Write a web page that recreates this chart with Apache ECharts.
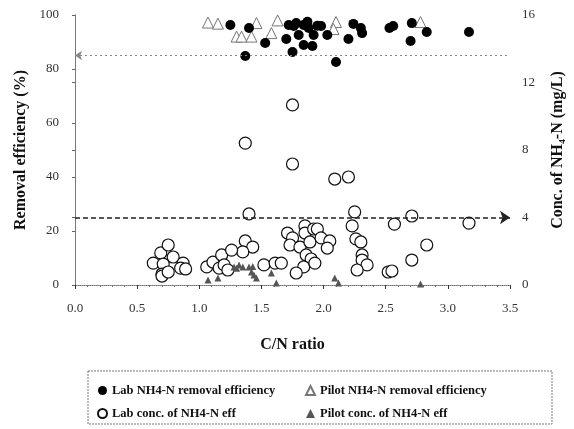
<!DOCTYPE html>
<html>
<head>
<meta charset="utf-8">
<script src="https://cdn.jsdelivr.net/npm/echarts@6/dist/echarts.min.js"></script>
<style>
  html, body { margin: 0; padding: 0; background: #fff; }
  #chart { width: 574px; height: 429px; }
</style>
</head>
<body>
<div id="chart"></div>
<script>
// ---------------- Data ----------------
// [C/N ratio, removal efficiency %]
let lab_removal = [
  [1.25, 96.3], [1.40, 95.2], [1.53, 89.6], [1.37, 84.8], [1.72, 96.3],
  [1.76, 95.9], [1.70, 91.1], [1.80, 92.6], [1.84, 96.3], [1.88, 95.2],
  [1.92, 92.6], [1.84, 88.9], [1.91, 88.5], [1.75, 86.3], [2.03, 92.6],
  [2.10, 82.6], [2.20, 91.1], [2.24, 96.7], [2.30, 95.2], [2.31, 93.3],
  [2.53, 95.2], [2.56, 95.9], [2.71, 97.0], [2.70, 90.4], [2.83, 93.7],
  [3.17, 93.7], [1.98, 95.9], [1.78, 97.0], [1.87, 97.5], [1.95, 96.0]
];
let pilot_removal = [
  [1.07, 97.2], [1.15, 96.8], [1.30, 92.0], [1.34, 92.0], [1.42, 92.0],
  [1.46, 97.0], [1.58, 93.3], [1.63, 98.0], [2.10, 97.4], [2.08, 94.8],
  [2.78, 97.4]
];
// [C/N ratio, conc. mg/L]
let lab_conc = [
  [1.37, 8.41], [1.75, 10.67], [1.75, 7.17], [1.40, 4.21], [1.37, 2.61],
  [1.43, 2.25], [1.35, 1.96], [0.63, 1.30], [0.69, 1.90], [0.75, 2.37],
  [0.79, 1.66], [0.71, 1.24], [0.70, 0.65], [0.70, 0.53], [0.75, 0.77],
  [0.87, 1.30], [0.85, 1.00], [0.89, 0.95], [1.06, 1.07], [1.11, 1.36],
  [1.16, 1.00], [1.18, 1.78], [1.20, 1.19], [1.23, 0.89], [1.26, 2.07],
  [1.52, 1.19], [1.61, 1.30], [1.66, 1.30], [1.71, 3.08], [1.75, 2.79],
  [1.73, 2.37], [1.85, 3.50], [1.85, 3.08], [1.81, 2.25], [1.89, 2.55],
  [1.92, 3.32], [1.86, 1.78], [1.90, 1.54], [1.84, 1.07], [1.78, 0.71],
  [1.93, 1.30], [1.95, 3.32], [1.98, 2.79], [2.05, 2.61], [2.03, 2.19],
  [2.09, 6.28], [2.20, 6.40], [2.25, 4.33], [2.23, 3.50], [2.57, 3.61],
  [2.71, 4.09], [3.17, 3.67], [2.26, 2.73], [2.30, 2.55], [2.31, 1.78],
  [2.31, 1.48], [2.35, 1.19], [2.27, 0.89], [2.83, 2.37], [2.71, 1.48],
  [2.52, 0.77], [2.55, 0.83]
];
let pilot_conc = [
  [1.07, 0.30], [1.15, 0.41], [1.28, 1.07], [1.32, 1.19], [1.30, 1.00],
  [1.35, 1.07], [1.40, 1.07], [1.43, 1.10], [1.42, 0.77], [1.44, 0.59],
  [1.46, 0.41], [1.58, 0.71], [1.62, 0.12], [2.09, 0.41], [2.12, 0.12],
  [2.78, 0.06]
];
let removal_limit = 85;   // dashed line, left axis
let conc_limit = 4;       // dashed line, right axis

let x_ticks = [0, 3.5, 0.5];
let left_ticks = [0, 100, 20];
let right_ticks = [0, 16, 4];

// ---------------- Styles ----------------
let serif = "'Liberation Serif', 'DejaVu Serif', serif";
let tick_label = { fontFamily: serif, fontSize: 13, color: '#333' };
let title_style = { fontFamily: serif, fontSize: 16, fontWeight: 'bold', color: '#111' };

let chart = echarts.init(document.getElementById('chart'));

let option = {
  backgroundColor: '#fff',
  animation: false,
  grid: { left: 75, right: 62, top: 15, bottom: 144 },
  xAxis: [{
    type: 'value',
    min: x_ticks[0], max: x_ticks[1], interval: x_ticks[2],
    name: 'C/N ratio', nameLocation: 'middle', nameGap: 52,
    nameTextStyle: title_style,
    axisLine: { onZero: false, lineStyle: { color: '#333', width: 1 } },
    axisTick: { inside: false, length: 4, lineStyle: { color: '#333' } },
    minorTick: { show: true, splitNumber: 5, length: 2, lineStyle: { color: '#777' } },
    axisLabel: Object.assign({ margin: 17, formatter: v => v.toFixed(1) }, tick_label),
    splitLine: { show: false }
  }, {
    type: 'value', position: 'top',
    min: x_ticks[0], max: x_ticks[1],
    axisLine: { show: true, lineStyle: { color: '#999', type: 'dotted' } },
    axisTick: { show: false }, axisLabel: { show: false }, splitLine: { show: false }
  }],
  yAxis: [{
    type: 'value',
    min: left_ticks[0], max: left_ticks[1], interval: left_ticks[2],
    name: 'Removal efficiency (%)', nameLocation: 'middle', nameGap: 46, nameRotate: 90,
    nameTextStyle: title_style,
    axisLine: { show: true, lineStyle: { color: '#999' } },
    axisTick: { show: true, length: 3, lineStyle: { color: '#666' } },
    axisLabel: Object.assign({ margin: 16 }, tick_label),
    splitLine: { show: false }
  }, {
    type: 'value', position: 'right',
    min: right_ticks[0], max: right_ticks[1], interval: right_ticks[2],
    name: 'Conc. of NH₄-N (mg/L)', nameLocation: 'middle', nameGap: 40, nameRotate: 90,
    nameTextStyle: title_style,
    axisLine: { show: true, lineStyle: { color: '#777' } },
    axisTick: { show: true, inside: true, length: 3, lineStyle: { color: '#666' } },
    axisLabel: Object.assign({ margin: 12 }, tick_label),
    splitLine: { show: false }
  }],
  legend: [{
    left: 92, top: 379, orient: 'vertical', itemGap: 10,
    itemWidth: 9, itemHeight: 9,
    textStyle: { fontFamily: serif, fontSize: 12.5, fontWeight: 'bold', color: '#111' },
    data: ['Lab NH4-N removal efficiency', 'Lab conc. of NH4-N eff']
  }, {
    left: 300, top: 379, orient: 'vertical', itemGap: 10,
    itemWidth: 9, itemHeight: 9,
    textStyle: { fontFamily: serif, fontSize: 12.5, fontWeight: 'bold', color: '#111' },
    data: ['Pilot NH4-N removal efficiency', 'Pilot conc. of NH4-N eff']
  }],
  graphic: [{
    type: 'rect',
    shape: { x: 88, y: 371, width: 464, height: 53 },
    style: { fill: 'none', stroke: '#777', lineWidth: 1, lineDash: [2, 1] }
  }],
  series: [{
    name: 'Lab NH4-N removal efficiency',
    type: 'scatter', yAxisIndex: 0,
    symbol: 'circle', symbolSize: 10,
    itemStyle: { color: '#000', opacity: 1 },
    data: lab_removal,
    z: 4,
    markLine: {
      silent: true, symbol: ['arrow', 'none'], symbolSize: 7,
      label: { show: false },
      lineStyle: { color: '#888', type: [2, 3], width: 1 },
      data: [{ yAxis: removal_limit }]
    }
  }, {
    name: 'Pilot NH4-N removal efficiency',
    type: 'scatter', yAxisIndex: 0,
    symbol: 'triangle', symbolSize: 11,
    itemStyle: { color: '#fff', borderColor: '#777', borderWidth: 1, opacity: 1 },
    data: pilot_removal,
    z: 3
  }, {
    name: 'Lab conc. of NH4-N eff',
    type: 'scatter', yAxisIndex: 1,
    symbol: 'circle', symbolSize: 12,
    itemStyle: { color: '#fff', borderColor: '#111', borderWidth: 1.2, opacity: 1 },
    data: lab_conc,
    z: 3,
    markLine: {
      silent: true, symbol: ['none', 'arrow'], symbolSize: 10,
      label: { show: false },
      lineStyle: { color: '#222', type: [5, 3], width: 1.5 },
      data: [{ yAxis: conc_limit }]
    }
  }, {
    name: 'Pilot conc. of NH4-N eff',
    type: 'scatter', yAxisIndex: 1,
    symbol: 'triangle', symbolSize: 7,
    itemStyle: { color: '#555', opacity: 1 },
    data: pilot_conc,
    z: 4
  }]
};
chart.setOption(option);
</script>
</body>
</html>
